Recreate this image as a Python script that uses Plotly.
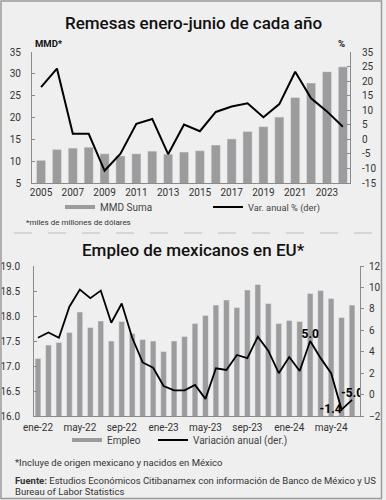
import plotly.graph_objects as go

W, H = 386, 500


def px(x):
    return x / W


def py(y):
    return 1 - y / H


# ---------------- data: remesas ----------------
years = list(range(2005, 2025))
remesas_mmd = [10.2, 12.7, 13.0, 13.2, 11.7, 11.2, 11.7, 12.3, 11.6, 12.1,
               12.4, 13.7, 15.1, 16.8, 17.9, 20.1, 24.6, 27.9, 30.5, 31.6]
remesas_var = [17.9, 24.3, 1.9, 1.9, -10.8, -4.9, 5.3, 7.0, -5.1, 5.1,
               2.8, 9.4, 11.3, 12.4, 7.6, 12.1, 23.2, 14.1, 9.6, 4.3]
year_ticks = [2005, 2007, 2009, 2011, 2013, 2015, 2017, 2019, 2021, 2023]
left1_ticks = [5, 10, 15, 20, 25, 30, 35]
right1_vals = [-15, -10, -5, 0, 5, 10, 15, 20, 25, 30]
right1_text = ["-15", "-10", "-5", "0", "5", "10", "15", "20", "25", "35"]

# ---------------- data: empleo ----------------
months = ["ene-22", "feb-22", "mar-22", "abr-22", "may-22", "jun-22", "jul-22", "ago-22",
          "sep-22", "oct-22", "nov-22", "dic-22",
          "ene-23", "feb-23", "mar-23", "abr-23", "may-23", "jun-23", "jul-23", "ago-23",
          "sep-23", "oct-23", "nov-23", "dic-23",
          "ene-24", "feb-24", "mar-24", "abr-24", "may-24", "jun-24", "jul-24"]
empleo = [17.15, 17.42, 17.47, 17.67, 18.08, 17.77, 17.90, 17.50, 17.89, 17.65,
          17.53, 17.50, 17.29, 17.50, 17.59, 17.85, 18.01, 18.22, 18.32, 18.17,
          18.52, 18.63, 18.25, 17.85, 17.91, 17.89, 18.45, 18.51, 18.35, 17.97, 18.22]
empleo_var = [5.3, 5.8, 5.3, 8.2, 9.8, 9.0, 9.7, 6.7, 8.5, 5.3,
              3.0, 2.5, 0.8, 0.4, 0.4, 0.9, -0.4, 2.45, 2.3, 3.7,
              3.4, 5.4, 4.1, 2.0, 3.5, 2.2, 5.0, 3.4, 2.0, -1.4, -0.5]
empleo_var_text = [""] * 26 + ["5.0", "", "", "-1.4", "-5.0"]
empleo_var_textpos = ["top center"] * 29 + ["middle left", "top center"]
month_ticks = ["ene-22", "may-22", "sep-22", "ene-23", "may-23", "sep-23", "ene-24", "may-24"]

BG = "#efefef"
BAR = "#9c9c9c"
AX = "#8a8a8a"
TXT = "#333333"
TICKFONT = dict(family="Roboto, sans-serif", size=10, color=TXT)
TICKFONT2 = dict(family="Roboto, sans-serif", size=10, color=TXT)
LEGFONT = dict(family="Roboto, sans-serif", size=10, color="#444444")
LEGFONT_S = dict(family="Roboto, sans-serif", size=9.3, color="#444444")

fig = go.Figure()

# top chart
fig.add_trace(go.Bar(x=years, y=remesas_mmd, marker_color=BAR, width=0.58,
                     xaxis="x", yaxis="y", showlegend=False, name="MMD Suma"))
fig.add_trace(go.Scatter(x=years, y=remesas_var, mode="lines",
                         line=dict(color="black", width=2),
                         xaxis="x", yaxis="y2", name="Var. anual % (der)", legend="legend2"))
fig.add_trace(go.Scatter(x=[None], y=[None], mode="lines", line=dict(color=BAR, width=4),
                         xaxis="x", yaxis="y", name="MMD Suma", legend="legend"))

# bottom chart
fig.add_trace(go.Bar(x=months, y=empleo, marker_color=BAR, width=0.55,
                     xaxis="x2", yaxis="y3", showlegend=False, name="Empleo"))
fig.add_trace(go.Scatter(x=months, y=empleo_var, mode="lines+text",
                         text=empleo_var_text, textposition=empleo_var_textpos,
                         textfont=dict(family="Roboto, sans-serif", size=12, color="black", weight="bold"),
                         line=dict(color="black", width=1.8),
                         xaxis="x2", yaxis="y4", name="Variación anual (der.)", legend="legend4"))
fig.add_trace(go.Scatter(x=[None], y=[None], mode="lines", line=dict(color=BAR, width=4),
                         xaxis="x2", yaxis="y3", name="Empleo", legend="legend3"))

axis_common = dict(showgrid=False, zeroline=False, showline=True, linecolor=AX, linewidth=1,
                   fixedrange=True, automargin=False)

leg_common = dict(orientation="h", yanchor="middle", xanchor="left", bgcolor="rgba(0,0,0,0)",
                  borderwidth=0)

fig.update_layout(
    width=W, height=H,
    margin=dict(l=0, r=0, t=0, b=0, pad=0, autoexpand=False),
    paper_bgcolor=BG, plot_bgcolor=BG,
    font=dict(family="Roboto, sans-serif", color=TXT),
    bargap=0.4,
    xaxis=dict(domain=[px(32), px(350)], anchor="y", range=[2004.43, 2024.45],
               tickvals=year_ticks, ticks="", tickfont=TICKFONT, ticklabelstandoff=0, **axis_common),
    yaxis=dict(domain=[py(183), py(52)], anchor="x", range=[5, 35], tickvals=left1_ticks,
               ticks="inside", ticklen=3, tickcolor=AX, tickfont=TICKFONT,
               ticklabelstandoff=8, **axis_common),
    yaxis2=dict(overlaying="y", side="right", anchor="x", range=[-15, 30],
                tickvals=right1_vals, ticktext=right1_text,
                ticks="inside", ticklen=3, tickcolor=AX, tickfont=TICKFONT,
                ticklabelstandoff=9, **axis_common),
    xaxis2=dict(domain=[px(34), px(360)], anchor="y3", type="category", range=[-0.38, 30.76],
                tickvals=month_ticks, ticks="", tickfont=TICKFONT2, ticklabelstandoff=2, **axis_common),
    yaxis3=dict(domain=[py(416), py(266)], anchor="x2", range=[16, 19], dtick=0.5,
                tickformat=".1f", ticks="inside", ticklen=3, tickcolor=AX, tickfont=TICKFONT2,
                ticklabelstandoff=11, **axis_common),
    yaxis4=dict(overlaying="y3", side="right", anchor="x2", range=[-2, 12], dtick=2,
                ticks="outside", ticklen=3, tickcolor=AX, tickfont=TICKFONT2,
                ticklabelstandoff=3, **axis_common),
    legend=dict(x=px(60), y=py(207), font=LEGFONT, **leg_common),
    legend2=dict(x=px(208), y=py(207), font=LEGFONT_S, **leg_common),
    legend3=dict(x=px(67), y=py(440), font=LEGFONT, **leg_common),
    legend4=dict(x=px(153), y=py(440), font=LEGFONT, **leg_common),
)

annotations = [
    dict(text="Remesas enero-junio de cada año", x=px(193), y=py(23),
         font=dict(family="Roboto, sans-serif", size=17, color="#111111", weight=500)),
    dict(text="Empleo de mexicanos en EU*", x=px(193), y=py(250),
         font=dict(family="Roboto, sans-serif", size=17, color="#111111", weight=500)),
    dict(text="<b>MMD*</b>", x=px(33), y=py(44), xanchor="left",
         font=dict(family="Roboto, sans-serif", size=9.5, color="#111111")),
    dict(text="<b>%</b>", x=px(347), y=py(44), xanchor="right",
         font=dict(family="Roboto, sans-serif", size=9.5, color="#111111")),
    dict(text="*miles de millones de dólares", x=px(24), y=py(223), xanchor="left",
         font=dict(family="Roboto, sans-serif", size=8, color=TXT)),
    dict(text="*Incluye de origen mexicano y nacidos en México", x=px(13), y=py(462), xanchor="left",
         font=dict(family="Roboto, sans-serif", size=9.5, color=TXT)),
    dict(text="<b>Fuente:</b> Estudios Económicos Citibanamex con información de Banco de México y US",
         x=px(13), y=py(480), xanchor="left",
         font=dict(family="Roboto, sans-serif", size=9.5, color=TXT)),
    dict(text="Bureau of Labor Statistics", x=px(13), y=py(491), xanchor="left",
         font=dict(family="Roboto, sans-serif", size=9.5, color=TXT)),
]
for a in annotations:
    a.update(xref="paper", yref="paper", showarrow=False, yanchor="middle")
    a.setdefault("xanchor", "center")
fig.update_layout(annotations=annotations)

fig.update_layout(shapes=[
    dict(type="line", xref="paper", yref="paper", x0=px(14), x1=px(372), y0=py(233), y1=py(233),
         line=dict(color="#bdbdbd", width=1, dash="18px,16px")),
    dict(type="rect", xref="paper", yref="paper", x0=px(1), x1=px(381.5), y0=py(498.5), y1=py(1),
         line=dict(color="#9a9a9a", width=1.5)),
])

fig.write_html(
    "out.html",
    config={"displayModeBar": False},
    post_script="document.body.style.margin='0';document.body.style.overflow='hidden';",
)
